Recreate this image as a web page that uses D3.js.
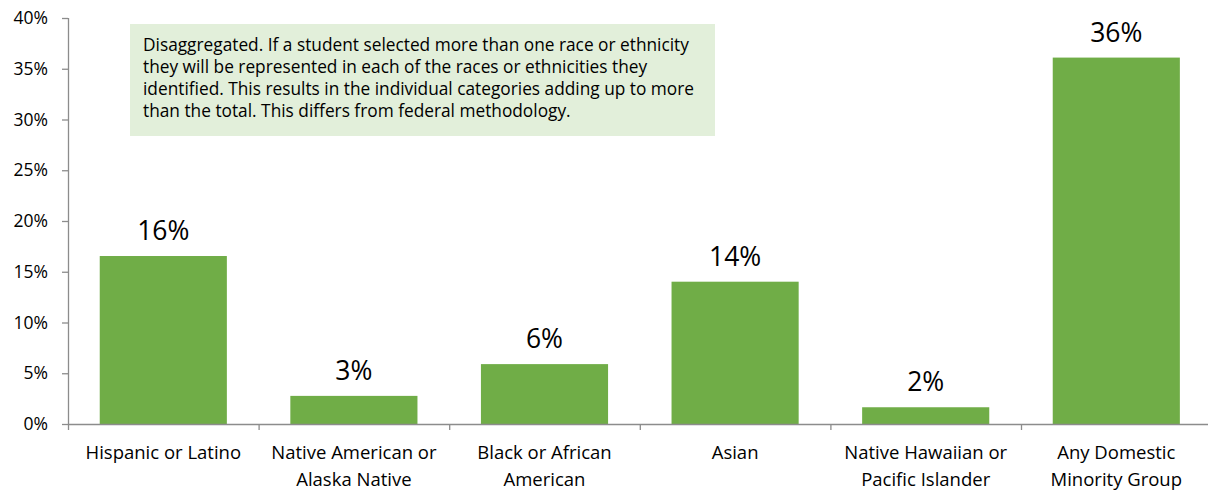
<!DOCTYPE html>
<html>
<head>
<meta charset="utf-8">
<script src="https://cdn.jsdelivr.net/npm/d3@7"></script>
<style>
  html, body { margin: 0; padding: 0; background: #fff; }
  svg { display: block; font-family: "Open Sans", Lato, sans-serif; }
</style>
</head>
<body>
<svg id="chart" width="1208" height="491"></svg>
<script>
const categories = [
  ["Hispanic or Latino"],
  ["Native American or", "Alaska Native"],
  ["Black or African", "American"],
  ["Asian"],
  ["Native Hawaiian or", "Pacific Islander"],
  ["Any Domestic", "Minority Group"]
];
const values = [16.55, 2.77, 5.9, 14.02, 1.65, 36.1];
const valueLabels = ["16%", "3%", "6%", "14%", "2%", "36%"];
const yTicks = [0, 5, 10, 15, 20, 25, 30, 35, 40];
const noteLines = [
  "Disaggregated. If a student selected more than one race or ethnicity",
  "they will be represented in each of the races or ethnicities they",
  "identified. This results in the individual categories adding up to more",
  "than the total. This differs from federal methodology."
];

const svg = d3.select("#chart");
const plotLeft = 68, plotTop = 18, plotBottom = 424, catW = 190.6;
const keys = categories.map((c, i) => i);
const x = d3.scaleBand().domain(keys).range([plotLeft, plotLeft + catW * keys.length]).paddingInner(0.333).paddingOuter(0.1665);
const y = d3.scaleLinear().domain([0, 40]).range([plotBottom, plotTop]);
const axisColor = "#8c8c8c";

// bars
svg.append("g").selectAll("rect").data(values).join("rect")
  .attr("x", (d, i) => x(i))
  .attr("width", x.bandwidth())
  .attr("y", d => y(d))
  .attr("height", d => y(0) - y(d))
  .attr("fill", "#70AD47");

// value labels
svg.append("g").selectAll("text").data(values).join("text")
  .attr("x", (d, i) => x(i) + x.bandwidth() / 2)
  .attr("y", d => y(d) - 16)
  .attr("text-anchor", "middle")
  .attr("font-size", 26.5)
  .attr("fill", "#000")
  .text((d, i) => valueLabels[i]);

// y axis
const yAxis = svg.append("g").attr("transform", `translate(${plotLeft},0)`)
  .call(d3.axisLeft(y).tickValues(yTicks).tickFormat(d => d + "%").tickSize(6).tickPadding(14));
yAxis.select(".domain").attr("stroke", axisColor).attr("stroke-width", 1.3).attr("d", `M0.5,${plotBottom}V${plotTop}`);
yAxis.selectAll(".tick line").attr("stroke", axisColor).attr("stroke-width", 1.3);
yAxis.selectAll(".tick text").attr("font-size", 17.5).attr("fill", "#000").attr("font-family", "'Open Sans', sans-serif");

// x axis
const boundaries = d3.range(keys.length + 1).map(i => plotLeft + i * catW);
svg.append("line").attr("x1", plotLeft).attr("x2", 1208).attr("y1", plotBottom + 0.5).attr("y2", plotBottom + 0.5)
  .attr("stroke", axisColor).attr("stroke-width", 1.3);
svg.append("g").selectAll("line").data(boundaries).join("line")
  .attr("x1", d => d + 0.5).attr("x2", d => d + 0.5)
  .attr("y1", plotBottom).attr("y2", plotBottom + 6)
  .attr("stroke", axisColor).attr("stroke-width", 1.3);

const xl = svg.append("g").selectAll("text").data(categories).join("text")
  .attr("text-anchor", "middle")
  .attr("font-size", 18.5)
  .attr("fill", "#000");
xl.each(function(lines, i) {
  const t = d3.select(this);
  lines.forEach((ln, j) => {
    t.append("tspan").attr("x", x(i) + x.bandwidth() / 2).attr("y", 459 + j * 26.5).text(ln);
  });
});

// note box
svg.append("rect").attr("x", 130).attr("y", 24).attr("width", 585).attr("height", 112).attr("fill", "#E2EFDA");
svg.append("g").selectAll("text").data(noteLines).join("text")
  .attr("x", 143)
  .attr("y", (d, i) => 51 + i * 22.1)
  .attr("font-size", 17.3)
  .attr("fill", "#000")
  .text(d => d);
</script>
</body>
</html>
